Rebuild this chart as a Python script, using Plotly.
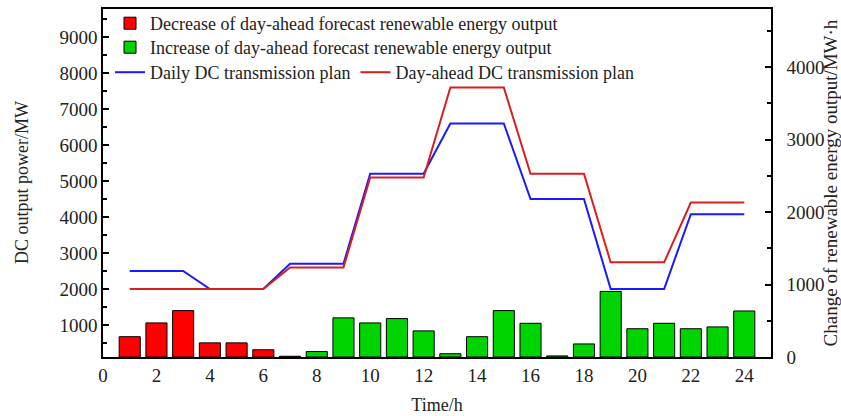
import plotly.graph_objects as go

hours = list(range(1, 25))
daily_plan = [2500, 2500, 2500, 2000, 2000, 2000, 2700, 2700, 2700, 5200, 5200, 5200,
              6600, 6600, 6600, 4500, 4500, 4500, 2000, 2000, 2000, 4080, 4080, 4080]
dayahead_plan = [2000, 2000, 2000, 2000, 2000, 2000, 2600, 2600, 2600, 5100, 5100, 5100,
                 7600, 7600, 7600, 5200, 5200, 5200, 2740, 2740, 2740, 4400, 4400, 4400]
change_values = [280, 470, 640, 195, 195, 100, 10, 75, 540, 470, 530, 360,
                 45, 280, 640, 465, 15, 180, 905, 390, 465, 390, 415, 635]
is_decrease = [True] * 7 + [False] * 17

dec_x = [h for h, d in zip(hours, is_decrease) if d]
dec_y = [v for v, d in zip(change_values, is_decrease) if d]
inc_x = [h for h, d in zip(hours, is_decrease) if not d]
inc_y = [v for v, d in zip(change_values, is_decrease) if not d]

FONT = "Liberation Serif, Times New Roman, serif"

fig = go.Figure()
fig.add_trace(go.Bar(x=dec_x, y=dec_y, yaxis="y2", name="Decrease of day-ahead forecast renewable energy output",
                     marker=dict(color="#ff0000", line=dict(color="black", width=1)), legend="legend"))
fig.add_trace(go.Bar(x=inc_x, y=inc_y, yaxis="y2", name="Increase of day-ahead forecast renewable energy output",
                     marker=dict(color="#00d400", line=dict(color="black", width=1)), legend="legend3"))
fig.add_trace(go.Scatter(x=hours, y=daily_plan, mode="lines", name="Daily DC transmission plan",
                         line=dict(color="#1a1aff", width=2), legend="legend2"))
fig.add_trace(go.Scatter(x=hours, y=dayahead_plan, mode="lines", name="Day-ahead DC transmission plan",
                         line=dict(color="#d91e1e", width=2), legend="legend2"))

axis_common = dict(showline=True, linecolor="black", linewidth=1.5, showgrid=False, zeroline=False,
                   automargin=False, tickfont=dict(family=FONT, size=19, color="#222"))

legend_common = dict(xref="container", yref="container", x=110 / 841, xanchor="left", yanchor="top",
                     bgcolor="rgba(0,0,0,0)", font=dict(family=FONT, size=18, color="#222"),
                     itemwidth=30, tracegroupgap=0)

fig.update_layout(
    width=841, height=416,
    margin=dict(l=103, r=70, t=9, b=59, autoexpand=False),
    plot_bgcolor="white", paper_bgcolor="white",
    font=dict(family=FONT, size=18, color="#222"),
    bargap=0.21,
    barmode="overlay",
    xaxis=dict(range=[0, 25], tickvals=list(range(0, 25, 2)), ticks="", mirror=True,
               title=dict(text="Time/h", font=dict(family=FONT, size=18), standoff=14),
               **axis_common),
    yaxis=dict(range=[110, 9780], tickvals=list(range(1000, 10000, 1000)), ticks="inside", ticklen=6,
               tickwidth=1.5, tickcolor="black",
               minor=dict(tickvals=list(range(500, 10000, 1000)), ticks="inside", ticklen=4, tickcolor="black"),
               **axis_common),
    yaxis2=dict(range=[0, 4800], overlaying="y", side="right", anchor="x",
                tickvals=list(range(0, 5000, 1000)), ticks="inside", ticklen=6, tickwidth=1.5, tickcolor="black",
                ticklabelstandoff=10,
                minor=dict(tickvals=list(range(500, 5000, 1000)), ticks="inside", ticklen=4, tickcolor="black"),
                title=dict(text="Change of renewable energy output/MW·h", font=dict(family=FONT, size=19), standoff=6),
                **axis_common),
    legend=dict(y=1 - 5 / 416, orientation="v", **legend_common),
    legend3=dict(y=1 - 29 / 416, orientation="v", **legend_common),
    legend2=dict(y=1 - 54 / 416, orientation="h", **legend_common),
    showlegend=True,
    annotations=[dict(text="DC output power/MW", xref="paper", yref="paper", x=-81 / 668, y=0.5,
                      xanchor="center", yanchor="middle", textangle=-90, showarrow=False,
                      font=dict(family=FONT, size=18, color="#222"))],
)

fig.write_html("out.html", config={"displayModeBar": False},
               post_script="document.body.style.margin='0';document.body.style.overflow='hidden';")
